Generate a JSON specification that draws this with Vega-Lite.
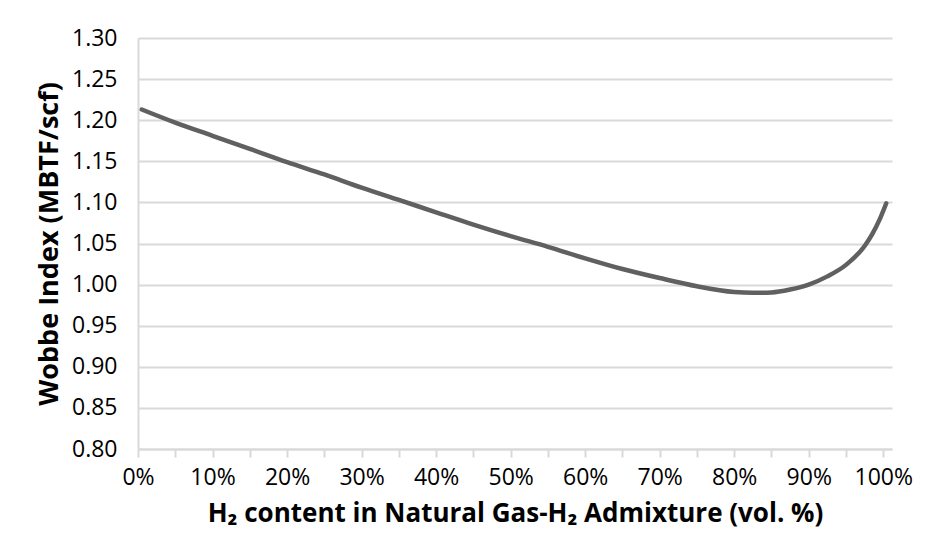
{
  "$schema": "https://vega.github.io/schema/vega-lite/v6.json",
  "width": 754,
  "height": 411,
  "autosize": "none",
  "padding": {"left": 138, "right": 36, "top": 38, "bottom": 103},
  "background": "white",
  "config": {
    "view": {"stroke": null},
    "font": "Open Sans",
    "axis": {
      "labelFont": "Open Sans",
      "titleFont": "Open Sans",
      "labelFontSize": 23,
      "titleFontSize": 26,
      "titleFontWeight": "bold",
      "labelColor": "#000000",
      "titleColor": "#000000",
      "domainColor": "#d9d9d9",
      "domainWidth": 2,
      "tickColor": "#d9d9d9",
      "tickWidth": 2,
      "gridColor": "#d9d9d9",
      "gridWidth": 2
    }
  },
  "data": {
    "values": [
      {"h2": 0.005, "wobbe": 1.213},
      {"h2": 0.05, "wobbe": 1.197},
      {"h2": 0.1, "wobbe": 1.181},
      {"h2": 0.15, "wobbe": 1.165},
      {"h2": 0.2, "wobbe": 1.149},
      {"h2": 0.25, "wobbe": 1.134},
      {"h2": 0.3, "wobbe": 1.118},
      {"h2": 0.35, "wobbe": 1.103},
      {"h2": 0.4, "wobbe": 1.088},
      {"h2": 0.45, "wobbe": 1.073},
      {"h2": 0.5, "wobbe": 1.059},
      {"h2": 0.55, "wobbe": 1.046},
      {"h2": 0.6, "wobbe": 1.032},
      {"h2": 0.65, "wobbe": 1.019},
      {"h2": 0.7, "wobbe": 1.008},
      {"h2": 0.75, "wobbe": 0.998},
      {"h2": 0.8, "wobbe": 0.991},
      {"h2": 0.825, "wobbe": 0.99},
      {"h2": 0.85, "wobbe": 0.9905},
      {"h2": 0.875, "wobbe": 0.994},
      {"h2": 0.9, "wobbe": 1.0},
      {"h2": 0.925, "wobbe": 1.01},
      {"h2": 0.95, "wobbe": 1.024},
      {"h2": 0.975, "wobbe": 1.047},
      {"h2": 0.985, "wobbe": 1.061},
      {"h2": 0.995, "wobbe": 1.079},
      {"h2": 1.004, "wobbe": 1.099}
    ]
  },
  "mark": {"type": "line", "color": "#606060", "strokeWidth": 4.5, "interpolate": "monotone", "strokeCap": "round"},
  "encoding": {
    "x": {
      "field": "h2",
      "type": "quantitative",
      "scale": {"domain": [0, 1.0117], "nice": false, "zero": false},
      "axis": {
        "title": "H₂ content in Natural Gas-H₂ Admixture (vol. %)",
        "values": [0, 0.05, 0.1, 0.15, 0.2, 0.25, 0.3, 0.35, 0.4, 0.45, 0.5, 0.55, 0.6, 0.65, 0.7, 0.75, 0.8, 0.85, 0.9, 0.95, 1.0],
        "labelExpr": "round(datum.value*100) % 10 == 0 ? format(datum.value, '.0%') : ''",
        "grid": false,
        "tickSize": 8,
        "labelPadding": 9,
        "labelFlush": false,
        "labelOverlap": false,
        "titlePadding": 11
      }
    },
    "y": {
      "field": "wobbe",
      "type": "quantitative",
      "scale": {"domain": [0.8, 1.3], "nice": false, "zero": false},
      "axis": {
        "title": "Wobbe Index (MBTF/scf)",
        "titleFontSize": 27,
        "values": [0.8, 0.85, 0.9, 0.95, 1.0, 1.05, 1.1, 1.15, 1.2, 1.25, 1.3],
        "format": ".2f",
        "ticks": false,
        "labelPadding": 21,
        "labelFlush": false,
        "labelOverlap": false,
        "titlePadding": 8
      }
    }
  }
}
